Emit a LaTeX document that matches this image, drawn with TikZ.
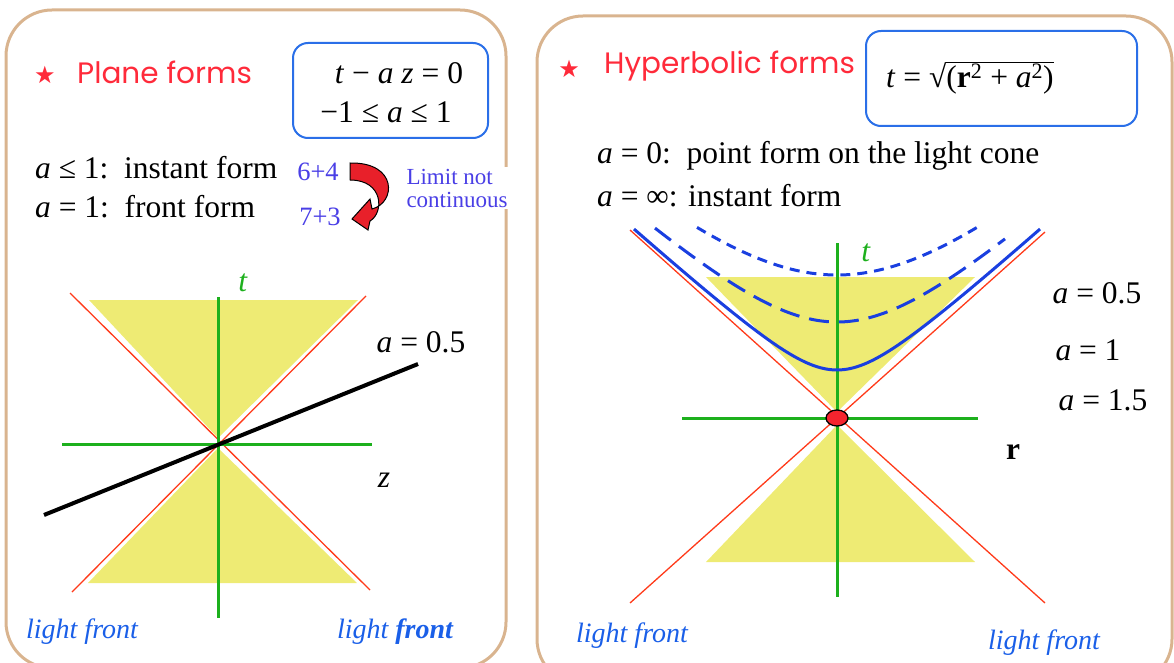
\documentclass[tikz,border=0pt]{standalone}
\usepackage{fontspec}
\setmainfont{Liberation Serif}
\newfontfamily\comicf{Poppins}
\newfontfamily\symf{DejaVu Sans}
\usepackage{tikz}
\usetikzlibrary{calc,positioning}
\definecolor{panelc}{HTML}{D9B48F}
\definecolor{boxc}{HTML}{2A6FE8}
\definecolor{titlec}{HTML}{FF2A3A}
\definecolor{limc}{HTML}{4A3FE6}
\definecolor{lfc}{HTML}{1A5FE8}
\definecolor{axc}{HTML}{1DB01D}
\definecolor{rayc}{HTML}{FF3A1A}
\definecolor{conec}{HTML}{EEEB74}
\definecolor{hypc}{HTML}{1A3FE0}
\definecolor{arrc}{HTML}{E8202A}
\definecolor{dotc}{HTML}{F5242E}
\tikzset{
  panel/.style={draw=panelc,line width=3pt,rounded corners=46pt},
  eqbox/.style={draw=boxc,line width=2pt,rounded corners=15pt},
  ttl/.style={font=\comicf\fontsize{29.5}{32}\selectfont,text=titlec,anchor=west,inner sep=0pt},
  star/.style={font=\symf\fontsize{24}{24}\selectfont,text=titlec,inner sep=0pt},
  txt/.style={font=\fontsize{31.5}{34}\selectfont,anchor=west,inner sep=0pt},
  lbl/.style={font=\fontsize{31.5}{34}\selectfont,inner sep=0pt},
  lf/.style={font=\itshape\fontsize{28}{30}\selectfont,text=lfc,inner sep=0pt},
  cone/.style={fill=conec},
  ray/.style={draw=rayc,line width=1.3pt},
  ax/.style={draw=axc,line width=3pt},
  hyp/.style={draw=hypc,line width=3pt}
}

\begin{document}
\begin{tikzpicture}[x=1pt,y=-1pt]
\useasboundingbox (0,0) rectangle (1174,663);
% two panels
\draw[panel] (6,10) rectangle (506,668);
\draw[panel] (537,16) rectangle (1172,685);

% ---- plane forms
\node[star] (pstar) at (45,75) {★};
\node[ttl] (ptitle) at (77,72) {Plane forms};
\node[eqbox,minimum width=195pt,minimum height=95pt] (pbox) at (390.5,90.5) {};
\node[lbl] (peqa) at (399,73) {\textit{t} − \textit{a z} = 0};
\node[lbl] (peqb) at (386,112) {−1 ≤ \textit{a} ≤ 1};
\node[txt] (inst) at (35,168) {\textit{a} ≤ 1:\ \ instant form};
\node[txt] (front) at (35,207) {\textit{a} = 1:\ \ front form};
\node[lbl,text=limc,font=\fontsize{26.5}{30}\selectfont] (sixfour) at (318,172) {6+4};
\node[lbl,text=limc,font=\fontsize{26.5}{30}\selectfont] (seventhree) at (320,217) {7+3};
\node[fill=white,text=limc,align=left,inner sep=2pt,font=\fontsize{23}{23}\selectfont] (limit) at (457,188) {Limit not\\continuous};
\filldraw[fill=arrc,draw=black,line width=1pt]
  (350,163) .. controls (398,162) and (396,203) .. (372,209)
  -- (370,199) -- (352,219) -- (368,230) -- (370,221)
  .. controls (384,213) and (384,180) .. (350,180) -- cycle;

\coordinate (po) at (218,443);
\fill[cone] (89,300) -- (358,300) -- (218,438) -- cycle;
\fill[cone] (88,583) -- (357,583) -- (218,448) -- cycle;
\draw[ray] (70,293) -- (370,590);
\draw[ray] (366,296) -- (72,592);
\draw[ax] (218,297) -- (218,618);
\draw[ax] (62,444) -- (372,444);
\draw[line width=4pt] (44,515) -- (418,364);
\node[lbl,text=axc] (pt) at (243,283) {\textit{t}};
\node[lbl] (pa) at (421,342) {\textit{a} = 0.5};
\node[lbl] (pz) at (384,480) {\textit{z}};
\node[lf] (plfa) at (82,632) {light front};
\node[lf] (plfb) at (395,632) {light \textbf{front}};

% ---- hyperbolic forms
\node[star] (hstar) at (569,69) {★};
\node[ttl] (htitle) at (604,66) {Hyperbolic forms};
\node[eqbox,minimum width=271pt,minimum height=95pt] (hbox) at (1001.5,78.5) {};
\node[txt] (heq) at (886,78) {\textit{t} = √$\overline{\mbox{(\textbf{r}\textsuperscript{2} + \textit{a}\textsuperscript{2})}}$};
\node[txt] (point) at (597,156) {\textit{a} = 0:\ \ point form on the light cone};
\node[txt] (inf) at (597,196) {\textit{a} = ∞: instant form};

\coordinate (ho) at (837,418);
\fill[cone] (706,277) -- (975,277) -- (837,412) -- cycle;
\fill[cone] (706,562) -- (975,562) -- (837,425) -- cycle;
\draw[ray] (630,230) -- (1045,603);
\draw[ray] (1045,232) -- (630,603);
\draw[ax] (837,243) -- (837,597);
\draw[ax] (682,418) -- (978,418);
\draw[hyp,smooth,samples=60,domain=-203:203] plot ({837+\x},{418-100*sqrt((0.009*\x)^2+0.48^2)});
\draw[hyp,dash pattern=on 20pt off 10pt,smooth,samples=60,domain=-182:168] plot ({837+\x},{418-100*sqrt((0.009*\x)^2+0.96^2)});
\draw[hyp,dash pattern=on 10pt off 7pt,smooth,samples=60,domain=-140:140] plot ({837+\x},{418-100*sqrt((0.009*\x)^2+1.43^2)});
\draw[fill=dotc,line width=1.3pt] (ho) ellipse (11 and 8);
\node[lbl,text=axc] (ht) at (866,253) {\textit{t}};
\node[lbl] (ha) at (1097,293) {\textit{a} = 0.5};
\node[lbl] (hb) at (1088,350) {\textit{a} = 1};
\node[lbl] (hc) at (1103,400) {\textit{a} = 1.5};
\node[lbl] (hr) at (1013,452) {\textbf{r}};
\node[lf] (hlfa) at (632,636) {light front};
\node[lf] (hlfb) at (1044,643) {light front};
\end{tikzpicture}
\end{document}
